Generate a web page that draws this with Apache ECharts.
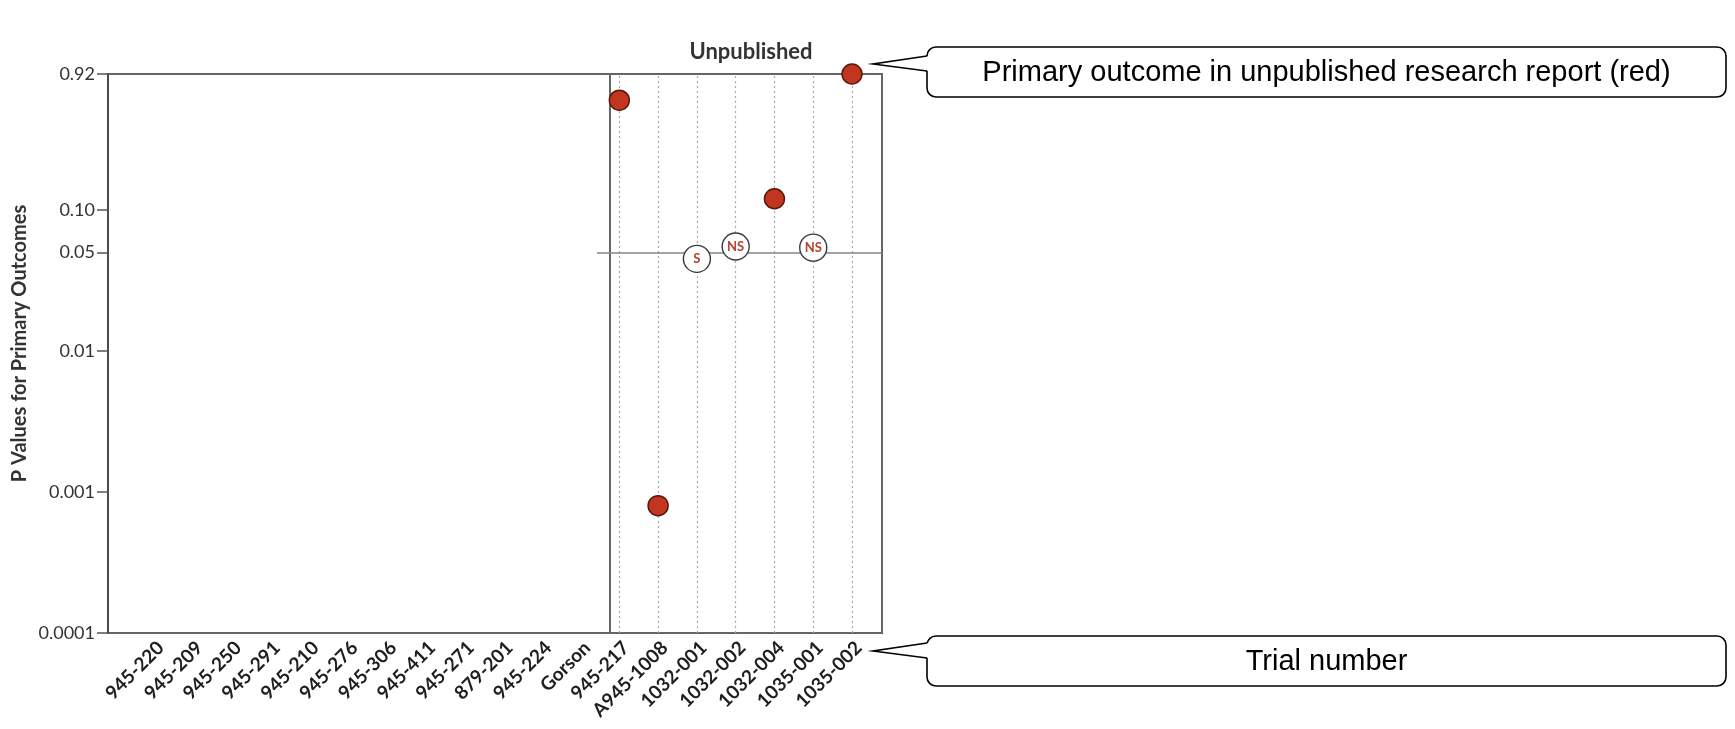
<!DOCTYPE html>
<html>
<head>
<meta charset="utf-8">
<script src="https://cdn.jsdelivr.net/npm/echarts@6/dist/echarts.min.js"></script>
<style>
  html, body { margin: 0; padding: 0; background: #fff; }
  #chart { width: 1735px; height: 729px; }
</style>
</head>
<body>
<div id="chart"></div>
<script>
// ---------------- data ----------------
const publishedTrials = ['945-220', '945-209', '945-250', '945-291', '945-210', '945-276',
  '945-306', '945-411', '945-271', '879-201', '945-224', 'Gorson'];
const unpublishedTrials = ['945-217', 'A945-1008', '1032-001', '1032-002', '1032-004', '1035-001', '1035-002'];
const categories = publishedTrials.concat(unpublishedTrials);

// primary outcome in unpublished research report (red filled)
const redTrials = ['945-217', 'A945-1008', '1032-004', '1035-002'];
const redPValues = [0.6, 0.0008, 0.12, 0.92];

// open circles with significance labels
const openTrials = ['1032-001', '1032-002', '1035-001'];
const openPValues = [0.045, 0.055, 0.054];
const openLabels = ['S', 'NS', 'NS'];

const significanceLevel = 0.05;

const yTickValues = [0.0001, 0.001, 0.01, 0.05, 0.1, 0.92];
const yTickLabels = ['0.0001', '0.001', '0.01', '0.05', '0.10', '0.92'];

const calloutTexts = ['Primary outcome in unpublished research report (red)', 'Trial number'];

// ---------------- chart ----------------
const chart = echarts.init(document.getElementById('chart'), null, { renderer: 'canvas' });

function yLabel(v) {
  let best = 0, bestD = Infinity;
  for (let i = 0; i < yTickValues.length; i++) {
    const d = Math.abs(Math.log10(v) - Math.log10(yTickValues[i]));
    if (d < bestD) { bestD = d; best = i; }
  }
  return yTickLabels[best];
}

const FRAME = '#666';
const TOP = 74, BOTTOM = 729 - 633;

function callout(boxX, boxY, boxW, boxH, joinTop, joinBottom, tipX, tipY, text) {
  return [
    { type: 'rect', z: 10, shape: { x: boxX, y: boxY, width: boxW, height: boxH, r: 9 },
      style: { fill: '#fff', stroke: '#000', lineWidth: 1.6 } },
    { type: 'polygon', z: 11, shape: { points: [[boxX + 2, joinTop], [tipX, tipY], [boxX + 2, joinBottom]] },
      style: { fill: '#fff', stroke: null, lineWidth: 0 } },
    { type: 'polyline', z: 12, shape: { points: [[boxX, joinTop], [tipX, tipY], [boxX, joinBottom]] },
      style: { fill: null, stroke: '#000', lineWidth: 1.6 } },
    { type: 'text', z: 13, style: { text: text, x: boxX + boxW / 2, y: boxY + boxH / 2 + 1,
      textAlign: 'center', align: 'center', textVerticalAlign: 'middle', verticalAlign: 'middle',
      font: '29px "Liberation Sans", Arial, sans-serif', fill: '#000' } }
  ];
}

const option = {
  animation: false,
  backgroundColor: '#fff',
  title: {
    text: 'Unpublished',
    left: 746, top: 36, textAlign: 'center',
    textStyle: { fontFamily: 'Lato', fontWeight: 'bold', fontSize: 22, color: '#333' }
  },
  grid: [
    // left (published) frame
    { left: 108, right: 1735 - 610, top: TOP, bottom: BOTTOM, show: true,
      borderColor: FRAME, borderWidth: 2, backgroundColor: 'transparent', outerBoundsMode: 'none' },
    // right (unpublished) frame
    { left: 610, right: 1735 - 882, top: TOP, bottom: BOTTOM, show: true,
      borderColor: FRAME, borderWidth: 2, backgroundColor: 'transparent', outerBoundsMode: 'none' },
    // data grid
    { left: 134.6, right: 1735 - 871.4, top: TOP, bottom: BOTTOM, show: false, outerBoundsMode: 'none' },
    // significance line extent
    { left: 597, right: 1735 - 882, top: TOP, bottom: BOTTOM, show: false, outerBoundsMode: 'none' }
  ],
  xAxis: [
    { type: 'category', gridIndex: 2, data: categories, boundaryGap: true,
      axisLine: { show: false }, axisTick: { show: false }, splitLine: { show: false },
      axisLabel: { interval: 0, rotate: 45, margin: 5, verticalAlign: 'top', color: '#1e1e1e',
        fontFamily: 'Lato', fontWeight: 'bold', fontSize: 19 } },
    { type: 'value', gridIndex: 3, min: 0, max: 1, show: false }
  ],
  yAxis: [
    { type: 'log', gridIndex: 2, min: 0.0001, max: 0.92, position: 'left', offset: 134.6 - 108,
      name: 'P Values for Primary Outcomes', nameLocation: 'middle', nameGap: 78,
      nameTextStyle: { fontFamily: 'Lato', fontWeight: 'bold', fontSize: 20, color: '#333', padding: [0, 0, 0, 20] },
      axisLine: { show: true, lineStyle: { color: '#4a4a4a', width: 2 } },
      axisTick: { show: true, length: 11, customValues: yTickValues, lineStyle: { color: '#555', width: 1.5 } },
      axisLabel: { customValues: yTickValues, formatter: yLabel, margin: 13,
        fontFamily: 'Lato', fontSize: 18, color: '#333' },
      splitLine: { show: false }, minorTick: { show: false }, minorSplitLine: { show: false } },
    { type: 'log', gridIndex: 3, min: 0.0001, max: 0.92, show: false }
  ],
  series: [
    { // dotted guide lines for unpublished trials
      type: 'scatter', xAxisIndex: 0, yAxisIndex: 0, data: [], z: 1, silent: true,
      markLine: { silent: true, symbol: 'none', animation: false,
        label: { show: false },
        lineStyle: { type: [2, 3], color: '#a8a8a8', width: 1.2 },
        data: unpublishedTrials.map(t => ({ xAxis: t })) }
    },
    { // significance threshold line
      type: 'scatter', xAxisIndex: 1, yAxisIndex: 1, data: [], z: 2, silent: true,
      markLine: { silent: true, symbol: 'none', animation: false,
        label: { show: false },
        lineStyle: { type: 'solid', color: '#858585', width: 1.6 },
        data: [{ yAxis: significanceLevel }] }
    },
    {
      name: 'Primary outcome (unpublished report)',
      type: 'scatter', xAxisIndex: 0, yAxisIndex: 0, z: 5, clip: false,
      symbol: 'circle', symbolSize: 20,
      itemStyle: { color: '#c2361f', borderColor: '#5a170c', borderWidth: 1.5, opacity: 1 },
      data: redTrials.map((t, i) => [t, redPValues[i]])
    },
    {
      name: 'Significance',
      type: 'scatter', xAxisIndex: 0, yAxisIndex: 0, z: 5, clip: false,
      symbol: 'circle', symbolSize: 27,
      itemStyle: { color: '#fff', borderColor: '#3a3a3a', borderWidth: 1.4, opacity: 1 },
      label: { show: true, position: 'inside', formatter: p => openLabels[p.dataIndex],
        color: '#b4402d', fontFamily: 'Lato', fontWeight: 'bold', fontSize: 13 },
      data: openTrials.map((t, i) => [t, openPValues[i]])
    }
  ],
  graphic: {
    elements: [].concat(
      callout(927, 47, 799, 50, 56, 71, 873, 64, calloutTexts[0]),
      callout(927, 636, 799, 50, 643, 658, 873, 651, calloutTexts[1])
    )
  }
};

chart.setOption(option);
</script>
</body>
</html>
